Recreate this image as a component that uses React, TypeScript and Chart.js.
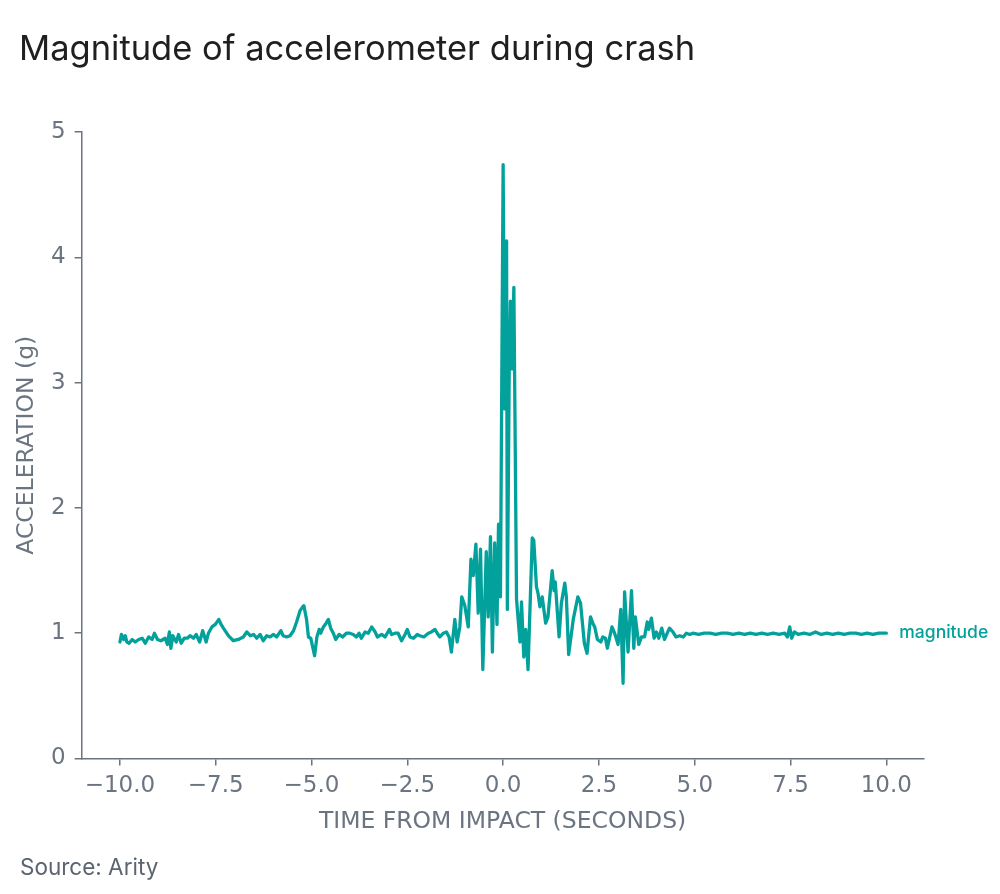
import React, { useEffect, useRef } from 'react';
import { Chart, registerables } from 'chart.js';

Chart.register(...registerables);

const TITLE = 'Magnitude of accelerometer during crash';
const SOURCE = 'Source: Arity';
const SERIES_LABEL = 'magnitude';
const X_TITLE = 'TIME FROM IMPACT (SECONDS)';
const Y_TITLE = 'ACCELERATION (g)';

const X_TICKS = [-10, -7.5, -5, -2.5, 0, 2.5, 5, 7.5, 10];
const Y_TICKS = [0, 1, 2, 3, 4, 5];

const TIME_S = [
  -10.0, -9.96, -9.9, -9.86, -9.82, -9.76, -9.68, -9.6, -9.51, -9.42, -9.34, -9.25, -9.16, -9.1, -9.02,
  -8.93, -8.82, -8.76, -8.71, -8.67, -8.62, -8.53, -8.47, -8.4, -8.32, -8.24, -8.17, -8.08, -8.01,
  -7.92, -7.84, -7.75, -7.69, -7.6, -7.51, -7.42, -7.36, -7.3, -7.17, -7.04, -6.91, -6.78, -6.69,
  -6.6, -6.51, -6.43, -6.34, -6.26, -6.17, -6.08, -5.99, -5.91, -5.8, -5.74, -5.65, -5.56, -5.47,
  -5.39, -5.3, -5.23, -5.2, -5.13, -5.08, -5.02, -4.97, -4.92, -4.86, -4.8, -4.76, -4.69, -4.62,
  -4.56, -4.5, -4.43, -4.37, -4.28, -4.19, -4.09, -4.0, -3.91, -3.83, -3.76, -3.7, -3.6, -3.52,
  -3.43, -3.34, -3.28, -3.17, -3.08, -2.97, -2.91, -2.82, -2.74, -2.65, -2.56, -2.5, -2.43, -2.34,
  -2.24, -2.17, -2.07, -1.95, -1.87, -1.78, -1.72, -1.65, -1.56, -1.48, -1.41, -1.35, -1.26, -1.2,
  -1.13, -1.08, -1.0, -0.91, -0.84, -0.78, -0.71, -0.65, -0.59, -0.53, -0.44, -0.39, -0.33, -0.28,
  -0.22, -0.16, -0.12, -0.07, 0.0, 0.04, 0.09, 0.11, 0.16, 0.19, 0.23, 0.28, 0.35, 0.44, 0.48,
  0.54, 0.59, 0.65, 0.76, 0.8, 0.87, 0.91, 0.96, 1.02, 1.11, 1.17, 1.28, 1.33, 1.36, 1.46, 1.52,
  1.61, 1.65, 1.71, 1.83, 1.95, 2.02, 2.12, 2.19, 2.28, 2.34, 2.39, 2.46, 2.55, 2.6, 2.67, 2.72,
  2.84, 2.91, 3.0, 3.07, 3.13, 3.17, 3.26, 3.35, 3.41, 3.45, 3.54, 3.61, 3.69, 3.76, 3.8, 3.87,
  3.94, 4.0, 4.06, 4.14, 4.21, 4.34, 4.43, 4.51, 4.61, 4.7, 4.78, 4.87, 4.95, 5.1, 5.25, 5.4,
  5.55, 5.7, 5.85, 6.0, 6.15, 6.3, 6.45, 6.6, 6.75, 6.9, 7.05, 7.2, 7.35, 7.42, 7.48, 7.53, 7.6,
  7.7, 7.85, 8.0, 8.15, 8.3, 8.45, 8.6, 8.75, 8.9, 9.05, 9.2, 9.35, 9.5, 9.65, 9.8, 10.0,
];

const ACCEL_G = [
  0.93, 0.99, 0.95, 0.98, 0.93, 0.92, 0.95, 0.93, 0.95, 0.96, 0.92, 0.97, 0.95, 1.0, 0.95,
  0.94, 0.96, 0.91, 1.01, 0.88, 0.98, 0.93, 0.99, 0.92, 0.96, 0.96, 0.98, 0.96, 0.99,
  0.93, 1.02, 0.93, 1.0, 1.05, 1.07, 1.11, 1.07, 1.04, 0.98, 0.94, 0.95, 0.97, 1.01,
  0.98, 0.99, 0.96, 0.99, 0.94, 0.98, 0.97, 0.99, 0.97, 1.02, 0.98, 0.97, 0.98, 1.02,
  1.09, 1.18, 1.21, 1.22, 1.11, 0.97, 0.96, 0.89, 0.82, 0.97, 1.03, 1.0, 1.05, 1.08,
  1.11, 1.04, 1.0, 0.95, 0.99, 0.97, 1.0, 1.0, 0.99, 0.97, 1.0, 0.96, 1.01, 1.0,
  1.05, 1.01, 0.97, 0.99, 0.97, 1.03, 0.99, 1.0, 1.0, 0.94, 0.99, 1.03, 0.97, 0.96,
  0.99, 0.98, 0.97, 1.0, 1.01, 1.03, 1.0, 0.97, 1.0, 1.01, 0.97, 0.85, 1.11, 0.93,
  1.05, 1.29, 1.22, 1.05, 1.59, 1.46, 1.71, 1.16, 1.67, 0.71, 1.65, 1.13, 1.77, 0.85,
  1.72, 1.07, 1.87, 1.29, 4.74, 2.79, 4.13, 1.19, 3.13, 3.65, 3.11, 3.76, 1.27, 0.93, 1.25,
  0.81, 1.03, 0.71, 1.76, 1.74, 1.37, 1.32, 1.21, 1.29, 1.08, 1.13, 1.5, 1.34, 1.41, 0.97, 1.24,
  1.4, 1.29, 0.83, 1.11, 1.29, 1.24, 0.92, 0.84, 1.13, 1.08, 1.05, 0.95, 0.93, 0.97, 0.96, 0.88,
  1.05, 1.0, 0.91, 1.19, 0.6, 1.33, 0.85, 1.34, 0.88, 1.13, 0.91, 0.97, 0.97, 1.09, 1.03, 1.12,
  0.96, 1.01, 0.96, 1.04, 0.95, 1.04, 1.01, 0.97, 0.98, 0.97, 1.0, 0.99, 1.0, 0.99, 1.0, 1.0,
  0.99, 1.0, 1.0, 0.99, 1.0, 0.99, 1.0, 0.99, 1.0, 0.99, 1.0, 0.99, 1.0, 0.97, 1.05, 0.96, 1.01,
  0.99, 1.0, 0.99, 1.01, 0.99, 1.0, 0.99, 1.0, 0.99, 1.0, 1.0, 0.99, 1.0, 0.99, 1.0, 1.0,
];

const TEAL = '#03a19b';
const AXIS_GRAY = '#6b7582';
const TEXT_GRAY = '#6b7582';

export default function App() {
  const ref = useRef<HTMLCanvasElement>(null);

  useEffect(() => {
    const canvas = ref.current;
    if (!canvas) return;

    const points = TIME_S.map((t, i) => ({ x: t, y: ACCEL_G[i] }));

    const textPlugin = {
      id: 'extraTexts',
      afterDraw(chart: any) {
        const ctx = chart.ctx as CanvasRenderingContext2D;
        ctx.save();
        ctx.textAlign = 'left';
        ctx.textBaseline = 'alphabetic';
        ctx.fillStyle = '#1f1f1f';
        ctx.font = '400 34.5px Inter';
        ctx.fillText(TITLE, 19, 60);
        ctx.fillStyle = '#5b6470';
        ctx.font = '400 22.5px Inter';
        ctx.fillText(SOURCE, 20, 875);
        const meta = chart.getDatasetMeta(0);
        const last = meta.data[meta.data.length - 1];
        ctx.fillStyle = TEAL;
        ctx.font = '500 17.5px Inter';
        ctx.textBaseline = 'middle';
        ctx.fillText(SERIES_LABEL, last.x + 13, last.y);
        ctx.restore();
      },
    };

    const chart = new Chart(canvas, {
      type: 'line',
      data: {
        datasets: [
          {
            label: SERIES_LABEL,
            data: points,
            borderColor: TEAL,
            backgroundColor: TEAL,
            borderWidth: 3.3,
            pointRadius: 0,
            tension: 0,
            fill: false,
            borderJoinStyle: 'round',
            borderCapStyle: 'round',
          },
        ],
      },
      options: {
        animation: false,
        responsive: false,
        maintainAspectRatio: false,
        layout: { padding: { top: 132, right: 76.5, bottom: 35.5, left: 0 } },
        plugins: {
          legend: { display: false },
          tooltip: { enabled: false },
          title: { display: false },
        },
        scales: {
          x: {
            type: 'linear',
            min: -11,
            max: 10.97,
            afterFit(scale: any) {
              scale.height = 100;
            },
            afterBuildTicks(scale: any) {
              scale.ticks = X_TICKS.map((v) => ({ value: v }));
            },
            ticks: {
              autoSkip: false,
              maxRotation: 0,
              padding: 7,
              color: TEXT_GRAY,
              font: { family: 'DejaVu Sans', size: 23 },
              callback: (v: any) => Number(v).toFixed(1).replace('-', '\u2212'),
            },
            grid: {
              drawOnChartArea: false,
              drawTicks: true,
              tickLength: 7,
              color: AXIS_GRAY,
              lineWidth: 1.5,
            },
            border: { display: true, color: AXIS_GRAY, width: 1.5 },
            title: {
              display: true,
              text: X_TITLE,
              color: TEXT_GRAY,
              font: { family: 'DejaVu Sans', size: 23.5 },
              padding: { top: 0, bottom: 22.4 },
            },
          },
          y: {
            type: 'linear',
            min: 0,
            max: 5,
            afterFit(scale: any) {
              scale.width = 81.6;
            },
            afterBuildTicks(scale: any) {
              scale.ticks = Y_TICKS.map((v) => ({ value: v }));
            },
            ticks: {
              padding: 9,
              color: TEXT_GRAY,
              font: { family: 'DejaVu Sans', size: 23 },
              callback: (v: any) => String(v),
            },
            grid: {
              drawOnChartArea: false,
              drawTicks: true,
              tickLength: 7,
              color: AXIS_GRAY,
              lineWidth: 1.5,
            },
            border: { display: true, color: AXIS_GRAY, width: 1.5 },
            title: {
              display: true,
              text: Y_TITLE,
              color: TEXT_GRAY,
              font: { family: 'DejaVu Sans', size: 23.5 },
              padding: { top: 12.9, bottom: 0 },
            },
          },
        },
      },
      plugins: [textPlugin],
    });

    return () => {
      chart.destroy();
    };
  }, []);

  return (
    <div style={{ position: 'absolute', left: 0, top: 0, width: 1000, height: 894, background: '#ffffff' }}>
      <canvas ref={ref} width={1000} height={894} style={{ display: 'block', width: 1000, height: 894 }} />
    </div>
  );
}
